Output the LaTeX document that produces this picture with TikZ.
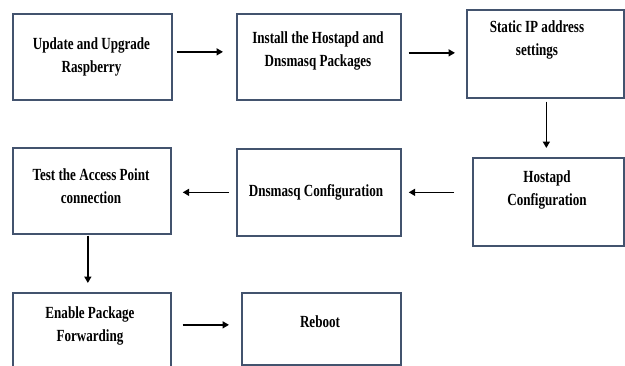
\documentclass[tikz,border=0pt]{standalone}
\usepackage{fontspec}
\setmainfont{Liberation Serif}[FakeStretch=0.77]
\usetikzlibrary{arrows.meta,calc}
\definecolor{boxline}{HTML}{43536E}
\tikzset{
  box/.style={draw=boxline, line width=1.7pt, rectangle, inner sep=0pt, anchor=north west},
  txt/.style={align=center, inner sep=0pt, font=\fontsize{17}{23.5}\selectfont\bfseries},
  flow/.style={line width=1.7pt, -{Triangle[length=6.5pt,width=7pt]}},
}
\begin{document}
\begin{tikzpicture}[x=1pt,y=-1pt]
\useasboundingbox (0,0) rectangle (625,365);
\fill[white] (0,0) rectangle (625,365);
% boxes
\node[box, minimum width=159pt, minimum height=86pt] (b1) at (12,13) {};
\node[box, minimum width=164pt, minimum height=86pt] (b2) at (236,13) {};
\node[box, minimum width=157pt, minimum height=88pt] (b3) at (466,9) {};
\node[box, minimum width=158pt, minimum height=86pt] (b4) at (12,147) {};
\node[box, minimum width=164pt, minimum height=87pt] (b5) at (236,148) {};
\node[box, minimum width=151pt, minimum height=88pt] (b6) at (472,157) {};
\node[box, minimum width=158pt, minimum height=82pt] (b7) at (12,292) {};
\node[box, minimum width=159pt, minimum height=72pt] (b8) at (241,292) {};
% texts
\node[txt] (t1) at (91.5,57) {Update and Upgrade\\Raspberry};
\node[txt] (t2) at (318,51) {Install the Hostapd and\\Dnsmasq Packages};
\node[txt] (t3) at (537,40) {Static IP address\\settings};
\node[txt] (t4) at (91,186) {Test the Access Point\\connection};
\node[txt] (t5) at (316,192) {Dnsmasq Configuration};
\node[txt] (t6) at (547,190) {Hostapd\\Configuration};
\node[txt] (t7) at (90,326) {Enable Package\\Forwarding};
\node[txt] (t8) at (320,322) {Reboot};
% connectors
\draw[flow, shorten <=4pt, shorten >=13pt] ([yshift=5pt]b1.east) -- ([yshift=5pt]b2.west);
\draw[flow, shorten <=7pt, shorten >=11pt] ([yshift=4pt]b2.east) -- ([yshift=4pt]b2.east -| b3.west);
\draw[flow, shorten <=3pt, shorten >=9pt] ([xshift=1pt]b3.south) -- ([xshift=1pt]b3.south |- b6.north);
\draw[flow, shorten <=18pt, shorten >=7pt] (b5.east -| b6.west) -- (b5.east);
\draw[flow, shorten <=7pt, shorten >=11pt] (b5.west) -- (b5.west -| b4.east);
\draw[flow, shorten <=1pt, shorten >=9pt] ([xshift=-4pt]b4.south) -- ([xshift=-4pt]b4.south |- b7.north);
\draw[flow, shorten <=11pt, shorten >=12pt] ([yshift=4pt]b8.west -| b7.east) -- ([yshift=4pt]b8.west);
\end{tikzpicture}
\end{document}
